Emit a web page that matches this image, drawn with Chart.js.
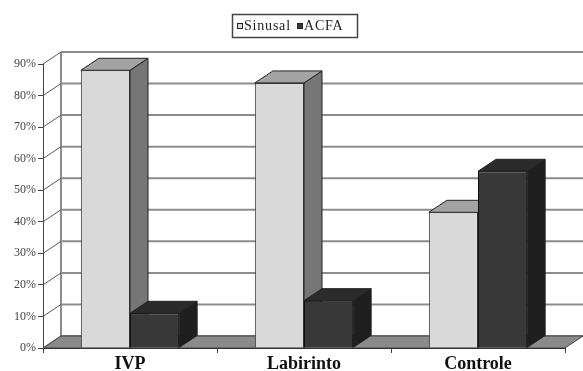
<!DOCTYPE html>
<html lang="pt">
<head>
  <meta charset="UTF-8" />
  <title>Sinusal x ACFA</title>
  <script src="https://cdn.jsdelivr.net/npm/chart.js"></script>
  <style>
    body { margin: 0; background: #fff; }
    #wrap { width: 583px; height: 371px; }
  </style>
</head>
<body>
  <div id="wrap"><canvas id="chart" width="583" height="371"></canvas></div>

  <script>
    // data
    const categories = ['IVP', 'Labirinto', 'Controle'];
    const sinusal = [88, 84, 43];
    const acfa = [11, 15, 56];
    const yTicks = [0, 10, 20, 30, 40, 50, 60, 70, 80, 90];

    // depth of the 3D effect
    const DX = 18, DY = -12;

    const faces = [
      { front: '#d9d9d9', top: '#a3a3a3', side: '#767676' },
      { front: '#393939', top: '#2b2b2b', side: '#1f1f1f' }
    ];

    function poly(ctx, pts, fill, stroke) {
      ctx.beginPath();
      ctx.moveTo(pts[0][0], pts[0][1]);
      for (let i = 1; i < pts.length; i++) ctx.lineTo(pts[i][0], pts[i][1]);
      ctx.closePath();
      if (fill) { ctx.fillStyle = fill; ctx.fill(); }
      if (stroke) { ctx.strokeStyle = stroke; ctx.lineWidth = 1; ctx.stroke(); }
    }

    // back wall, left wall lines, floor, and tops/sides of bars
    const walls3d = {
      id: 'walls3d',
      beforeDatasetsDraw(chart) {
        const { ctx, chartArea: a, scales } = chart;
        const y = scales.y;
        ctx.save();
        // back grid lines
        ctx.lineWidth = 2;
        ctx.strokeStyle = '#8c8c8c';
        yTicks.forEach(v => {
          const py = y.getPixelForValue(v);
          ctx.beginPath();
          ctx.moveTo(a.left + DX, py + DY);
          ctx.lineTo(a.right + DX, py + DY);
          ctx.stroke();
        });
        // back wall left edge
        ctx.beginPath();
        ctx.moveTo(a.left + DX, y.getPixelForValue(90) + DY);
        ctx.lineTo(a.left + DX, y.getPixelForValue(0) + DY);
        ctx.stroke();
        // left wall slanted lines
        ctx.lineWidth = 1;
        ctx.strokeStyle = '#555';
        yTicks.forEach(v => {
          const py = y.getPixelForValue(v);
          ctx.beginPath();
          ctx.moveTo(a.left, py);
          ctx.lineTo(a.left + DX, py + DY);
          ctx.stroke();
        });
        // floor
        const y0 = y.getPixelForValue(0);
        poly(ctx, [[a.left, y0], [a.left + DX, y0 + DY], [a.right + DX, y0 + DY], [a.right, y0]], '#8a8a8a', '#444');

        // tops and sides, category by category
        const metas = [chart.getDatasetMeta(0), chart.getDatasetMeta(1)];
        for (let i = 0; i < categories.length; i++) {
          metas.forEach((meta, d) => {
            const bar = meta.data[i];
            const p = bar.getProps(['x', 'y', 'base', 'width'], true);
            const l = p.x - p.width / 2, r = p.x + p.width / 2;
            const f = faces[d];
            poly(ctx, [[r, p.y], [r + DX, p.y + DY], [r + DX, p.base + DY], [r, p.base]], f.side, '#222');
            poly(ctx, [[l, p.y], [l + DX, p.y + DY], [r + DX, p.y + DY], [r, p.y]], f.top, '#222');
          });
        }
        ctx.restore();
      },
      afterDraw(chart) {
        // boxed legend
        const ctx = chart.ctx;
        ctx.save();
        ctx.strokeStyle = '#444';
        ctx.lineWidth = 1.5;
        ctx.strokeRect(232.5, 14.5, 125, 23);
        ctx.font = '14px "Liberation Serif"';
        ctx.letterSpacing = '0.8px';
        ctx.textBaseline = 'middle';
        const items = [
          { label: chart.data.datasets[0].label, x: 237, c: faces[0].front },
          { label: chart.data.datasets[1].label, x: 297, c: faces[1].front }
        ];
        items.forEach(it => {
          ctx.fillStyle = it.c;
          ctx.fillRect(it.x, 23, 6, 6);
          ctx.strokeStyle = '#222';
          ctx.lineWidth = 1;
          ctx.strokeRect(it.x + 0.5, 23.5, 5, 5);
          ctx.fillStyle = '#222';
          ctx.fillText(it.label, it.x + 7, 26.5);
        });
        ctx.restore();
      }
    };

    new Chart(document.getElementById('chart'), {
      type: 'bar',
      data: {
        labels: categories,
        datasets: [
          { label: 'Sinusal', data: sinusal, backgroundColor: faces[0].front, borderColor: '#333', borderWidth: 1 },
          { label: 'ACFA', data: acfa, backgroundColor: faces[1].front, borderColor: '#111', borderWidth: 1 }
        ]
      },
      options: {
        responsive: false,
        animation: false,
        layout: { padding: { top: 64, right: 18, left: 0, bottom: 0 } },
        datasets: { bar: { categoryPercentage: 0.565, barPercentage: 1 } },
        plugins: { legend: { display: false }, tooltip: { enabled: false } },
        scales: {
          x: {
            grid: { drawOnChartArea: false, tickLength: 5, color: '#444' },
            border: { display: true, color: '#222', width: 1 },
            ticks: { color: '#111', padding: 1, font: { family: 'Liberation Serif', size: 18, weight: 'bold' } },
            afterFit(s) { s.height = 23; }
          },
          y: {
            min: 0, max: 90,
            grid: { drawOnChartArea: false, tickLength: 5, color: '#444' },
            border: { display: true, color: '#444', width: 1 },
            ticks: { stepSize: 10, padding: 2, color: '#444', font: { family: 'Liberation Serif', size: 12 }, callback: v => v + '%' },
            afterFit(s) { s.width = 43; }
          }
        }
      },
      plugins: [walls3d]
    });
  </script>
</body>
</html>
